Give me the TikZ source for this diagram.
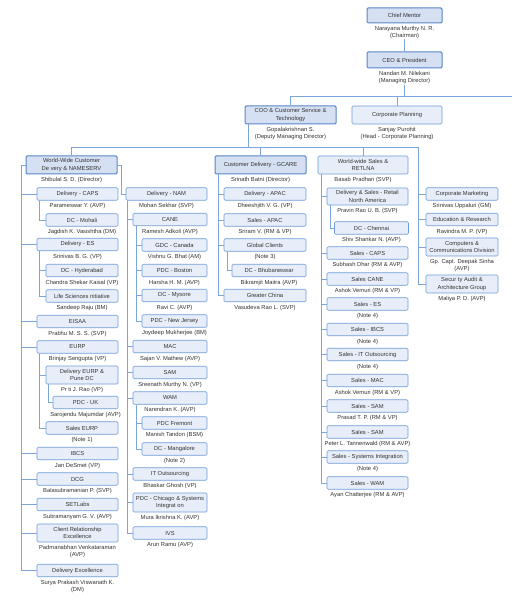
\documentclass[tikz,border=0pt]{standalone}
\usepackage{fontspec}
\setmainfont{Liberation Sans}
\usetikzlibrary{positioning}
\definecolor{chartLine}{RGB}{125,166,219}
\definecolor{chartEdge}{RGB}{110,157,218}
\definecolor{chartFill}{RGB}{232,238,249}
\definecolor{chartHeadFill}{RGB}{214,224,243}
\definecolor{chartHeadEdge}{RGB}{88,134,199}
\definecolor{chartText}{RGB}{51,51,51}

\begin{document}
\begin{tikzpicture}[
  x=1pt, y=-1pt,
  every node/.style={font=\fontsize{5.8}{7.2}\selectfont, text=chartText},
  unit/.style={draw=chartEdge, fill=chartFill, rounded corners=1.2pt, line width=0.6pt, minimum height=12.5pt, inner sep=1pt, align=center},
  head/.style={unit, draw=chartHeadEdge, fill=chartHeadFill, line width=1pt},
  tall/.style={minimum height=18pt},
  who/.style={inner sep=0.4pt, align=center},
  link/.style={draw=chartLine, line width=0.7pt},
  w65/.style={minimum width=65pt}, w72/.style={minimum width=72pt},
  w74/.style={minimum width=74pt}, w81/.style={minimum width=81pt},
  w82/.style={minimum width=82pt}, w90/.style={minimum width=90pt},
  w91/.style={minimum width=91pt}, w75/.style={minimum width=75pt},
  node distance=2.2pt
]
  \path[use as bounding box, fill=white] (0,0) rectangle (512,601);

  % Top management.
  \node[head, w75, minimum height=15pt] (mentor) at (404.5,15.5) {Chief Mentor};
  \node[who, below=of mentor] (mentorw) {Narayana Murthy N. R.\\(Chairman)};
  \node[head, w75, minimum height=16pt] (ceo) at (404.5,60) {CEO  \& President};
  \node[who, below=of ceo] (ceow) {Nandan M. Nilekani\\(Managing Director)};
  \node[head, w91, tall] (coo) at (290.5,115) {COO \& Customer Service \&\\Technology};
  \node[who, below=of coo] (coow) {Gopalakrishnan S.\\(Deputy Managing Director)};
  \node[unit, w90, tall] (cplan) at (397,115) {Corporate Planning};
  \node[who, below=of cplan] (cplanw) {Sanjay Purohit\\(Head - Corporate Planning)};

  % Units under the COO.
  \node[head, w91, tall] (wwc) at (71.5,165) {World-Wide Customer\\De very  \& NAMESERV};
  \node[who, below=of wwc] (wwcw) {Shibulal S. D. (Director)};
  \node[head, w91, tall] (gcare) at (260.5,165) {Customer Delivery - GCARE};
  \node[who, below=of gcare] (gcarew) {Srinath Batni (Director)};
  \node[unit, w90, tall] (wws) at (363,165) {World-wide Sales \&\\RETLNA};
  \node[who, below=of wws] (wwsw) {Basab Pradhan (SVP)};

  % World-Wide Customer Delivery column.
  \node[unit, w81] (caps) at (77.5,194) {Delivery - CAPS};
  \node[who, below=of caps] (capsw) {Parameswar Y. (AVP)};
  \node[unit, w72] (mohali) at (82,220) {DC - Mohali};
  \node[who, below=of mohali] (mohaliw) {Jagdish K. Vasishtha (DM)};
  \node[unit, w81] (es) at (77.5,244.5) {Delivery - ES};
  \node[who, below=of es] (esw) {Srinivas B. G. (VP)};
  \node[unit, w72] (hyd) at (82,270.5) {DC - Hyderabad};
  \node[who, below=of hyd] (hydw) {Chandra Shekar Kaisal (VP)};
  \node[unit, w72] (lifesci) at (82,296) {Life Sciences  nitiative};
  \node[who, below=of lifesci] (lifesciw) {Sandeep Raju (BM)};
  \node[unit, w81] (eisaa) at (77.5,321.5) {EISAA};
  \node[who, below=of eisaa] (eisaaw) {Prabhu M. S. S. (SVP)};
  \node[unit, w81] (eurp) at (77.5,347) {EURP};
  \node[who, below=of eurp] (eurpw) {Brinjay Sengupta (VP)};
  \node[unit, w72, tall] (deurp) at (82,375) {Delivery EURP \&\\Pune DC};
  \node[who, below=of deurp] (deurpw) {Pr ti  J. Rao (VP)};
  \node[unit, w65] (pdcuk) at (85.5,402.5) {PDC - UK};
  \node[who, below=of pdcuk] (pdcukw) {Sarojendu Majumdar (AVP)};
  \node[unit, w72] (saleseurp) at (82,428) {Sales  EURP};
  \node[who, below=of saleseurp] (saleseurpw) {(Note 1)};
  \node[unit, w81] (ibcs) at (77.5,453.5) {IBCS};
  \node[who, below=of ibcs] (ibcsw) {Jan DeSmet (VP)};
  \node[unit, w81] (dcg) at (77.5,479) {DCG};
  \node[who, below=of dcg] (dcgw) {Balasubramanian P. (SVP)};
  \node[unit, w81] (setlabs) at (77.5,504.5) {SETLabs};
  \node[who, below=of setlabs] (setlabsw) {Subramanyam G. V. (AVP)};
  \node[unit, w81, tall] (cre) at (77.5,533) {Client Relationship\\Excellence};
  \node[who, below=of cre] (crew) {Padmanabhan Venkataraman\\(AVP)};
  \node[unit, w81] (dex) at (77.5,570.5) {Delivery Excellence};
  \node[who, below=of dex] (dexw) {Surya Prakash Viswanath K.\\(DM)};

  % Delivery - NAM column.
  \node[unit, w81] (nam) at (166.5,194) {Delivery - NAM};
  \node[who, below=of nam] (namw) {Mohan Sekhar (SVP)};
  \node[unit, w74] (cane) at (170,219.5) {CANE};
  \node[who, below=of cane] (canew) {Ramesh Adkoli (AVP)};
  \node[unit, w65] (gdc) at (174.5,245) {GDC - Canada};
  \node[who, below=of gdc] (gdcw) {Vishnu G. Bhat (AM)};
  \node[unit, w65] (pdcbos) at (174.5,270.5) {PDC - Boston};
  \node[who, below=of pdcbos] (pdcbosw) {Harsha H. M. (AVP)};
  \node[unit, w65] (dcmys) at (174.5,295.5) {DC - Mysore};
  \node[who, below=of dcmys] (dcmysw) {Ravi C. (AVP)};
  \node[unit, w65] (pdcnj) at (174.5,321) {PDC - New Jersey};
  \node[who, below=of pdcnj] (pdcnjw) {Joydeep Mukherjee (BM)};
  \node[unit, w74] (mac) at (170,346.5) {MAC};
  \node[who, below=of mac] (macw) {Sajan V. Mathew (AVP)};
  \node[unit, w74] (sam) at (170,372.5) {SAM};
  \node[who, below=of sam] (samw) {Sreenath Murthy N. (VP)};
  \node[unit, w74] (wam) at (170,398) {WAM};
  \node[who, below=of wam] (wamw) {Narendran K. (AVP)};
  \node[unit, w65] (pdcfre) at (174.5,423) {PDC  Fremont};
  \node[who, below=of pdcfre] (pdcfrew) {Manish Tandon (BSM)};
  \node[unit, w65] (dcman) at (174.5,449) {DC - Mangalore};
  \node[who, below=of dcman] (dcmanw) {(Note 2)};
  \node[unit, w74] (itout) at (170,474) {IT Outsourcing};
  \node[who, below=of itout] (itoutw) {Bhaskar Ghosh (VP)};
  \node[unit, w74, minimum height=19pt] (pdcchi) at (170,502.5) {PDC - Chicago \& Systems\\Integrat on};
  \node[who, below=of pdcchi] (pdcchiw) {Mura lkrishna K. (AVP)};
  \node[unit, w74] (ivs) at (170,533) {IVS};
  \node[who, below=of ivs] (ivsw) {Arun Ramu (AVP)};

  % GCARE column.
  \node[unit, w82] (dapac) at (265,194) {Delivery - APAC};
  \node[who, below=of dapac] (dapacw) {Dheeshjith V. G. (VP)};
  \node[unit, w82] (sapac) at (265,220) {Sales - APAC};
  \node[who, below=of sapac] (sapacw) {Sriram V. (RM \& VP)};
  \node[unit, w82] (gclients) at (265,245) {Global Clients};
  \node[who, below=of gclients] (gclientsw) {(Note 3)};
  \node[unit, w74] (bhub) at (269,270.5) {DC - Bhubaneswar};
  \node[who, below=of bhub] (bhubw) {Bikramjit Maitra (AVP)};
  \node[unit, w82] (gchina) at (265,295.5) {Greater China};
  \node[who, below=of gchina] (gchinaw) {Vasudeva Rao L. (SVP)};

  % World-wide Sales column.
  \node[unit, w81, minimum height=17pt] (dsrna) at (367.5,196.5) {Delivery \& Sales - Retail\\North America};
  \node[who, below=of dsrna] (dsrnaw) {Pravin Rao U. B. (SVP)};
  \node[unit, w74] (chennai) at (371.5,228) {DC - Chennai};
  \node[who, below=of chennai] (chennaiw) {Shiv Shankar N. (AVP)};
  \node[unit, w81] (scaps) at (367.5,253) {Sales - CAPS};
  \node[who, below=of scaps] (scapsw) {Subhash Dhar (RM \& AVP)};
  \node[unit, w81] (scane) at (367.5,279) {Sales  CANE};
  \node[who, below=of scane] (scanew) {Ashok Vemuri (RM \& VP)};
  \node[unit, w81] (ses) at (367.5,304) {Sales - ES};
  \node[who, below=of ses] (sesw) {(Note 4)};
  \node[unit, w81] (sibcs) at (367.5,329.5) {Sales - IBCS};
  \node[who, below=of sibcs] (sibcsw) {(Note 4)};
  \node[unit, w81] (sito) at (367.5,354.5) {Sales - IT Outsourcing};
  \node[who, below=of sito] (sitow) {(Note 4)};
  \node[unit, w81] (smac) at (367.5,380.5) {Sales - MAC};
  \node[who, below=of smac] (smacw) {Ashok Vemuri (RM \& VP)};
  \node[unit, w81] (ssam) at (367.5,406) {Sales - SAM};
  \node[who, below=of ssam] (ssamw) {Prasad T. P. (RM \& VP)};
  \node[unit, w81] (ssamb) at (367.5,432) {Sales - SAM};
  \node[who, below=of ssamb] (ssambw) {Peter L. Tannenwald (RM \& AVP)};
  \node[unit, w81] (ssi) at (367.5,457) {Sales - Systems Integration};
  \node[who, below=of ssi] (ssiw) {(Note 4)};
  \node[unit, w81] (swam) at (367.5,483) {Sales - WAM};
  \node[who, below=of swam] (swamw) {Ayan Chatterjee (RM \& AVP)};

  % Staff functions on the right.
  \node[unit, w72] (cmkt) at (462,194) {Corporate Marketing};
  \node[who, below=of cmkt] (cmktw) {Srinivas Uppaluri (GM)};
  \node[unit, w72] (edu) at (462,219.5) {Education \& Research};
  \node[who, below=of edu] (eduw) {Ravindra M. P. (VP)};
  \node[unit, w72, tall] (ccd) at (462,247) {Computers \&\\Communications Division};
  \node[who, below=of ccd] (ccdw) {Gp. Capt. Deepak Sinha\\(AVP)};
  \node[unit, w72, tall] (secaudit) at (462,284) {Secur ty Audit \&\\Architecture Group};
  \node[who, below=of secaudit] (secauditw) {Maliya P. D. (AVP)};

  % Upper connectors.
  \coordinate (tbus) at (512,96);
  \coordinate (rbus) at (418,147);
  \coordinate (cooleg) at ([xshift=4pt]coo.south west);
  \draw[link] (mentorw.south) -- (ceo.north);
  \draw[link] (ceow.south) -- (ceow.south |- tbus);
  \draw[link] (coo.north) |- (tbus);
  \draw[link] (cplan.north |- tbus) -- (cplan.north);
  \draw[link] (cooleg) -- (cooleg |- rbus);
  \draw[link] (wwc.north) |- (rbus);
  \foreach \n in {gcare,wws} \draw[link] (\n.north |- rbus) -- (\n.north);

  % Left spine.
  \coordinate (spL) at ([xshift=-4pt]wwc.west);
  \draw[link] (wwc.west) -- (spL) |- (dex.west);
  \foreach \n in {caps,es,eisaa,eurp,ibcs,dcg,setlabs,cre} \draw[link] (spL |- \n.west) -- (\n.west);
  \coordinate (capsleg) at ([xshift=3pt]caps.south west);
  \draw[link] (capsleg) |- (mohali.west);
  \coordinate (esleg) at ([xshift=3pt]es.south west);
  \draw[link] (esleg) |- (lifesci.west);
  \draw[link] (esleg |- hyd.west) -- (hyd.west);
  \coordinate (eurpleg) at ([xshift=3pt]eurp.south west);
  \draw[link] (eurpleg) |- (saleseurp.west);
  \draw[link] (eurpleg |- deurp.west) -- (deurp.west);
  \coordinate (deurpleg) at ([xshift=3pt]deurp.south west);
  \draw[link] (deurpleg) |- (pdcuk.west);

  % NAM spine.
  \coordinate (namhook) at ([xshift=-4pt]nam.west);
  \draw[link] (wwc.east) -| (namhook) -- (nam.west);
  \coordinate (namleg) at ([xshift=2pt]nam.south west);
  \draw[link] (namleg) |- (ivs.west);
  \foreach \n in {cane,mac,sam,wam,itout,pdcchi} \draw[link] (namleg |- \n.west) -- (\n.west);
  \coordinate (caneleg) at ([xshift=4pt]cane.south west);
  \draw[link] (caneleg) |- (pdcnj.west);
  \foreach \n in {gdc,pdcbos,dcmys} \draw[link] (caneleg |- \n.west) -- (\n.west);
  \coordinate (wamleg) at ([xshift=4pt]wam.south west);
  \draw[link] (wamleg) |- (dcman.west);
  \draw[link] (wamleg |- pdcfre.west) -- (pdcfre.west);

  % GCARE spine.
  \coordinate (gcareleg) at ([xshift=4pt]gcare.south west);
  \draw[link] (gcareleg) |- (gchina.west);
  \foreach \n in {dapac,sapac,gclients} \draw[link] (gcareleg |- \n.west) -- (\n.west);
  \coordinate (gclientsleg) at ([xshift=4pt]gclients.south west);
  \draw[link] (gclientsleg) |- (bhub.west);

  % Sales spine.
  \coordinate (wwsleg) at ([xshift=4pt]wws.south west);
  \draw[link] (wwsleg) |- (swam.west);
  \foreach \n in {dsrna,scaps,scane,ses,sibcs,sito,smac,ssam,ssamb,ssi} \draw[link] (wwsleg |- \n.west) -- (\n.west);
  \coordinate (dsrnaleg) at ([xshift=4pt]dsrna.south west);
  \draw[link] (dsrnaleg) |- (chennai.west);

  % Staff spine.
  \draw[link] (rbus) |- (secaudit.west);
  \foreach \n in {cmkt,edu,ccd} \draw[link] (rbus |- \n.west) -- (\n.west);
\end{tikzpicture}
\end{document}
